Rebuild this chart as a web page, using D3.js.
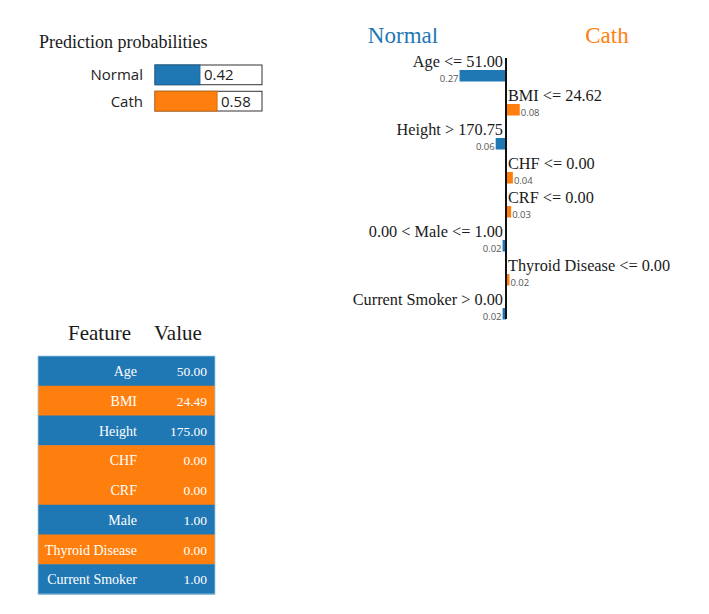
<!DOCTYPE html>
<html><head><meta charset="utf-8">
<script src="https://cdn.jsdelivr.net/npm/d3@7/dist/d3.min.js"></script>
<style>body{margin:0;background:#fff;} svg{display:block;}</style>
</head><body>
<script>
const classNames = ["Normal", "Cath"];
const classProbs = [0.42, 0.58];
const classColors = ["#1f77b4", "#ff7f0e"];

const featureConds = ["Age <= 51.00", "BMI <= 24.62", "Height > 170.75", "CHF <= 0.00",
  "CRF <= 0.00", "0.00 < Male <= 1.00", "Thyroid Disease <= 0.00", "Current Smoker > 0.00"];
const featureWeights = [-0.27, 0.08, -0.06, 0.04, 0.03, -0.02, 0.02, -0.02];

const tableFeatures = ["Age", "BMI", "Height", "CHF", "CRF", "Male", "Thyroid Disease", "Current Smoker"];
const tableValues = ["50.00", "24.49", "175.00", "0.00", "0.00", "1.00", "0.00", "1.00"];

const W = 709, H = 614;
const svg = d3.select("body").append("svg").attr("width", W).attr("height", H);
const serif = "'Liberation Serif','Times New Roman',serif";
const sans = "'Open Sans','DejaVu Sans',sans-serif";

// ---- Prediction probabilities ----
const pp = svg.append("g");
pp.append("text").attr("x", 39).attr("y", 48).attr("font-family", serif)
  .attr("font-size", 18).attr("fill", "#1a1a1a").text("Prediction probabilities");
const px = d3.scaleLinear().domain([0, 1]).range([155, 262]);
const py = d3.scaleBand().domain(classNames).range([65, 111]).paddingInner(0.25);
classNames.forEach((c, i) => {
  const y = py(c), h = py.bandwidth();
  pp.append("rect").attr("x", px(0)).attr("y", y).attr("width", px(1) - px(0)).attr("height", h)
    .attr("fill", "#fff").attr("stroke", "#333").attr("stroke-width", 1);
  pp.append("rect").attr("x", px(0)).attr("y", y).attr("width", px(classProbs[i]) - px(0)).attr("height", h)
    .attr("fill", classColors[i]).attr("stroke", d3.color(classColors[i]).darker(0.5)).attr("stroke-width", 1);
  pp.append("text").attr("x", 143).attr("y", y + h / 2 + 5.5).attr("text-anchor", "end")
    .attr("font-family", sans).attr("font-size", 15).attr("fill", "#222").text(c);
  pp.append("text").attr("x", px(classProbs[i]) + 4).attr("y", y + h / 2 + 5.5)
    .attr("font-family", sans).attr("font-size", 15).attr("fill", "#222").text(classProbs[i].toFixed(2));
});

// ---- Explanation ----
const ex = svg.append("g");
const defs = svg.append("defs");
defs.append("clipPath").attr("id", "hdrclip").append("rect").attr("x", 0).attr("y", 28).attr("width", W).attr("height", 40);
const hdr = ex.append("g").attr("clip-path", "url(#hdrclip)");
hdr.append("text").attr("x", 403).attr("y", 43).attr("text-anchor", "middle").attr("font-family", serif)
  .attr("font-size", 23).attr("fill", classColors[0]).text(classNames[0]);
hdr.append("text").attr("x", 607).attr("y", 43).attr("text-anchor", "middle").attr("font-family", serif)
  .attr("font-size", 23).attr("fill", classColors[1]).text(classNames[1]);

const axisX = 506;
const wx = d3.scaleLinear().domain([-1, 1]).range([axisX - 172, axisX + 172]);
const wy = d3.scaleBand().domain(featureConds).range([58, 330]).paddingInner(0);
const barH = 11.5;
const fmt = d3.format(".2f");
featureConds.forEach((f, i) => {
  const w = featureWeights[i];
  const top = wy(f) + 12;
  const x0 = Math.min(wx(0), wx(w)), bw = Math.abs(wx(w) - wx(0));
  ex.append("rect").attr("x", x0).attr("y", top).attr("width", bw).attr("height", barH)
    .attr("fill", w < 0 ? classColors[0] : classColors[1]);
  ex.append("text").attr("x", w < 0 ? axisX - 3 : axisX + 2).attr("y", top - 3.5)
    .attr("text-anchor", w < 0 ? "end" : "start").attr("font-family", serif).attr("font-size", 16.3)
    .attr("fill", "#1a1a1a").text(f);
  ex.append("text").attr("x", w < 0 ? wx(w) - 1 : wx(w) + 1).attr("y", top + barH)
    .attr("text-anchor", w < 0 ? "end" : "start").attr("font-family", sans).attr("font-size", 9.5)
    .attr("fill", "#555").text(fmt(Math.abs(w)));
});
ex.append("line").attr("x1", axisX).attr("x2", axisX).attr("y1", 58).attr("y2", 319)
  .attr("stroke", "#111").attr("stroke-width", 2);

// ---- Feature table ----
const tb = svg.append("g");
tb.append("text").attr("x", 68).attr("y", 340).attr("font-family", serif).attr("font-size", 21)
  .attr("fill", "#1a1a1a").text("Feature");
tb.append("text").attr("x", 154).attr("y", 340).attr("font-family", serif).attr("font-size", 21)
  .attr("fill", "#1a1a1a").text("Value");
const ty = d3.scaleBand().domain(tableFeatures).range([356, 594]);
tableFeatures.forEach((f, i) => {
  const color = featureWeights[i] < 0 ? classColors[0] : classColors[1];
  const y = ty(f);
  tb.append("rect").attr("x", 38).attr("y", y).attr("width", 177).attr("height", ty.bandwidth() + 0.5)
    .attr("fill", color);
  tb.append("text").attr("x", 137).attr("y", y + 20).attr("text-anchor", "end").attr("font-family", serif)
    .attr("font-size", 14).attr("fill", "#fff").text(f);
  tb.append("text").attr("x", 207).attr("y", y + 20).attr("text-anchor", "end").attr("font-family", serif)
    .attr("font-size", 13.5).attr("fill", "#fff").text(tableValues[i]);
});
tb.append("rect").attr("x", 38).attr("y", 356).attr("width", 177).attr("height", 238)
  .attr("fill", "none").attr("stroke", "#9ecae1").attr("stroke-width", 0.8);
</script>
</body></html>
